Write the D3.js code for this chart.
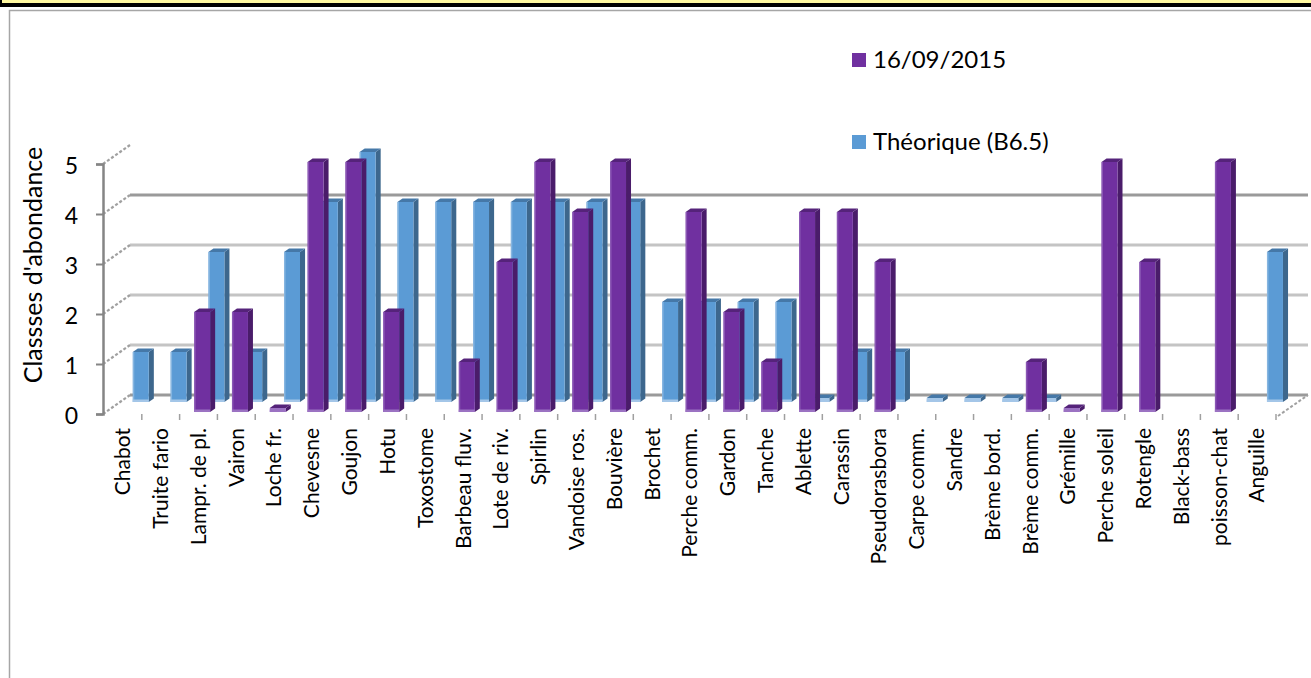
<!DOCTYPE html>
<html lang="fr">
<head>
<meta charset="UTF-8">
<title>Classes d'abondance</title>
<script src="https://d3js.org/d3.v7.min.js"></script>
<style>
  body { margin: 0; background: #fff; }
  text { font-family: Lato, "Open Sans", sans-serif; fill: #000; }
</style>
</head>
<body>
<svg id="chart"></svg>
<script>
// data
const categories = ["Chabot", "Truite fario", "Lampr. de pl.", "Vairon", "Loche fr.", "Chevesne", "Goujon",
  "Hotu", "Toxostome", "Barbeau fluv.", "Lote de riv.", "Spirlin", "Vandoise ros.", "Bouvière", "Brochet",
  "Perche comm.", "Gardon", "Tanche", "Ablette", "Carassin", "Pseudorasbora", "Carpe comm.", "Sandre",
  "Brème bord.", "Brème comm.", "Grémille", "Perche soleil", "Rotengle", "Black-bass", "poisson-chat", "Anguille"];
const observed = [null, null, 2, 2, 0, 5, 5, 2, null, 1, 3, 5, 4, 5, null, 4, 2, 1, 4, 4, 3,
  null, null, null, 1, 0, 5, 3, null, 5, null];
const theorique = [1, 1, 3, 1, 3, 4, 5, 4, 4, 4, 4, 4, 4, 4, 2, 2, 2, 2, 0, 1, 1,
  0, 0, 0, 0, null, null, null, null, null, 3];
const yTicks = [0, 1, 2, 3, 4, 5];
const seriesNames = ["16/09/2015", "Théorique (B6.5)"];

const W = 1311, H = 678;
const svg = d3.select("#chart").attr("width", W).attr("height", H);

// top banner + outer frame
svg.append("rect").attr("x", 0).attr("y", 0).attr("width", W).attr("height", 3).attr("fill", "#fff9a0");
svg.append("rect").attr("x", 0).attr("y", 3).attr("width", W).attr("height", 4).attr("fill", "#000");
svg.append("rect").attr("x", 0).attr("y", 0).attr("width", 2).attr("height", 7).attr("fill", "#000");
svg.append("rect").attr("x", 9.5).attr("y", 10.5).attr("width", W + 20).attr("height", H + 20)
  .attr("fill", "none").attr("stroke", "#a6a6a6").attr("stroke-width", 1.5);

const x = d3.scaleBand().domain(categories).range([104, 1276]);
const y = d3.scaleLinear().domain([0, 5]).range([414, 164]);

// oblique depth (full depth = back wall)
const DX = 27, DY = -19;
const ox = d => DX * d, oy = d => DY * d;

// back wall gridlines
const grid = svg.append("g");
yTicks.filter(v => v < 5).forEach(v => {
  grid.append("line")
    .attr("x1", 130).attr("x2", 1308)
    .attr("y1", y(v) + DY).attr("y2", y(v) + DY)
    .attr("stroke", (v === 0 || v === 4) ? "#9a9a9a" : "#c4c4c4")
    .attr("stroke-width", 3);
});
// depth stubs from the axis to the wall
yTicks.forEach(v => {
  grid.append("line")
    .attr("x1", 103).attr("y1", y(v))
    .attr("x2", 103 + DX).attr("y2", y(v) + DY)
    .attr("stroke", "#a0a0a0").attr("stroke-width", 2.2)
    .attr("stroke-dasharray", "3,2");
});
// floor corner on the right
grid.append("line")
  .attr("x1", 1278).attr("y1", 416).attr("x2", 1308).attr("y2", 395)
  .attr("stroke", "#a0a0a0").attr("stroke-width", 2).attr("stroke-dasharray", "3,2");

// vertical axis
const yAxis = d3.axisLeft(y).tickValues(yTicks).tickFormat(d3.format("d")).tickSize(7).tickPadding(18);
const ya = svg.append("g").attr("transform", "translate(103,0)").call(yAxis)
  .attr("font-size", 23).attr("font-family", "Lato, sans-serif");
ya.select(".domain").attr("stroke", "#858585").attr("stroke-width", 2.5);
ya.selectAll(".tick line").attr("stroke", "#858585").attr("stroke-width", 2);
ya.selectAll(".tick text").attr("fill", "#000").attr("dy", "0.42em");

// category ticks at band edges
const edges = categories.map(c => x(c) + x.bandwidth()).slice(0, -1).concat([1276]);
svg.append("g").selectAll("line").data(edges).join("line")
  .attr("x1", d => d).attr("x2", d => d).attr("y1", 414).attr("y2", 420)
  .attr("stroke", "#a0a0a0").attr("stroke-width", 1.5);

// bars
const barW = 16;
const series = [
  { values: theorique, d1: 0.632, d2: 0.82, front: "#5b9bd5", side: "#3d678d", top: "#4578a8", light: "#a4c6e8" },
  { values: observed, d1: 0.105, d2: 0.29, front: "#7030a0", side: "#4a1c6a", top: "#55237a", light: "#9b72c2" }
];

series.forEach(s => {
  const g = svg.append("g");
  categories.forEach((c, i) => {
    const v = s.values[i];
    if (v === null) return;
    const cx = x(c) + x.bandwidth() / 2 + 0.8 + ox(s.d1);
    const xl = cx - barW / 2, xr = cx + barW / 2;
    const yb = y(0) + oy(s.d1);
    // a zero value still shows as a thin slab
    const yt = v > 0 ? y(v) + oy(s.d1) : yb - 4;
    const ddx = ox(s.d2 - s.d1), ddy = oy(s.d2 - s.d1);
    // side face
    g.append("polygon")
      .attr("points", [[xr, yt], [xr + ddx, yt + ddy], [xr + ddx, yb + ddy], [xr, yb]].join(" "))
      .attr("fill", s.side);
    // top face
    g.append("polygon")
      .attr("points", [[xl, yt], [xr, yt], [xr + ddx, yt + ddy], [xl + ddx, yt + ddy]].join(" "))
      .attr("fill", s.top);
    g.append("rect").attr("x", xl).attr("y", yt).attr("width", barW).attr("height", yb - yt)
      .attr("fill", v > 0 ? s.front : s.light);
    if (v > 0) {
      g.append("rect").attr("x", xl).attr("y", yt).attr("width", 1.5).attr("height", yb - yt)
        .attr("fill", s.light).attr("opacity", 0.6);
    }
    // lighter bottom edge
    g.append("rect").attr("x", xl).attr("y", yb - 2.5).attr("width", barW).attr("height", 2.5)
      .attr("fill", s.light);
  });
});

// category labels
svg.append("g").selectAll("text").data(categories).join("text")
  .attr("transform", d => `translate(${x(d) + x.bandwidth() / 2},428) rotate(-90)`)
  .attr("dy", "0.35em")
  .attr("text-anchor", "end")
  .attr("font-size", 21)
  .text(d => d);

// y title
svg.append("text")
  .attr("transform", "translate(33,265) rotate(-90)")
  .attr("dy", "0.35em")
  .attr("text-anchor", "middle")
  .attr("font-size", 25)
  .text("Classses d'abondance");

// legend
const legend = svg.append("g");
const legColors = ["#7030a0", "#5b9bd5"];
seriesNames.forEach((n, i) => {
  const ly = 53 + i * 82;
  legend.append("rect").attr("x", 852).attr("y", ly).attr("width", 14).attr("height", 14)
    .attr("fill", legColors[i]);
  legend.append("text").attr("x", 873).attr("y", ly + 15).attr("font-size", 24).text(n);
});
</script>
</body>
</html>
